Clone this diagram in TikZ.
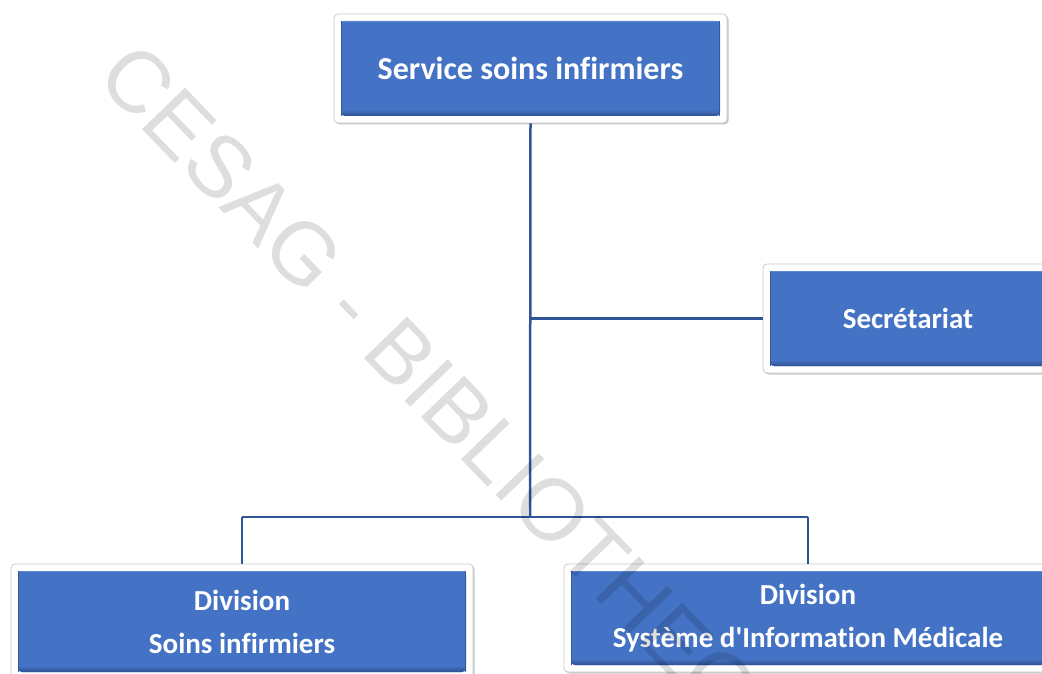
\documentclass[tikz,border=0pt]{standalone}
\usepackage{fontspec}
\setmainfont{Carlito}[Ligatures=NoCommon]
\newfontfamily\wmfont{Liberation Sans}
\usetikzlibrary{shadows}
\definecolor{boxblue}{HTML}{4472C4}
\definecolor{boxdark}{HTML}{2E5090}
\definecolor{boxlight}{HTML}{5C88D8}
\definecolor{linkblue}{HTML}{2F5597}
\definecolor{framegray}{HTML}{C8C8C8}

\begin{document}
\begin{tikzpicture}[x=1pt,y=-1pt,
  orgbox/.style={rectangle, rounded corners=4pt, fill=white, draw=framegray, line width=0.8pt,
    drop shadow={shadow xshift=1.5pt, shadow yshift=-1.5pt, opacity=0.22, fill=black},
    text=white, font=\bfseries\fontsize{29}{43}\selectfont, align=center, inner sep=0pt,
    path picture={
      \fill[boxblue] ([shift={(7pt,-7pt)}]path picture bounding box.north west)
        rectangle ([shift={(-7pt,7pt)}]path picture bounding box.south east);
      \shade[top color=boxblue, bottom color=boxdark]
        ([shift={(7pt,13pt)}]path picture bounding box.south west)
        rectangle ([shift={(-7pt,7pt)}]path picture bounding box.south east);
      \draw[boxlight, line width=1.2pt]
        ([shift={(7pt,-7.6pt)}]path picture bounding box.north west)
        -- ([shift={(-7pt,-7.6pt)}]path picture bounding box.north east);
      \draw[boxdark!80!boxblue, line width=1pt]
        ([shift={(7.5pt,-7pt)}]path picture bounding box.north west)
        -- ([shift={(7.5pt,7pt)}]path picture bounding box.south west);
      \draw[boxdark!80!boxblue, line width=1pt]
        ([shift={(-7.5pt,-7pt)}]path picture bounding box.north east)
        -- ([shift={(-7.5pt,7pt)}]path picture bounding box.south east);
    }},
  link/.style={draw=linkblue, line width=2.5pt}]

\useasboundingbox (0,0) rectangle (1042,674);

% boxes
\node[orgbox, minimum width=393pt, minimum height=109pt,
      font=\bfseries\fontsize{32}{38}\selectfont] (top) at (530.5,68.5) {Service soins infirmiers};
\node[orgbox, minimum width=290pt, minimum height=109pt] (sec) at (908,318.5) {Secrétariat};
\node[orgbox, minimum width=462pt, minimum height=115pt] (divL) at (242,621.5) {Division\\Soins infirmiers};
\node[orgbox, minimum width=488pt, minimum height=108pt] (divR) at (808,618)
  {Division\\Système d\textquotesingle Information Médicale};

% connectors
\coordinate (j1) at (530,318.5);
\coordinate (j2) at (530,517);
\draw[link] (top.south) -- (j2);
\draw[link] (j1) -- (sec.west);
\draw[link] (divL.north |- j2) -- (divR.north |- j2);
\draw[link] (divL.north |- j2) -- (divL.north);
\draw[link] (divR.north |- j2) -- (divR.north);

% watermark
\node[rotate=-46, anchor=base west, inner sep=0pt, text=black, text opacity=0.13,
      font=\wmfont\fontsize{87}{87}\selectfont] (wm) at (94,79) {CESAG - BIBLIOTHEQUE};
\end{tikzpicture}
\end{document}
